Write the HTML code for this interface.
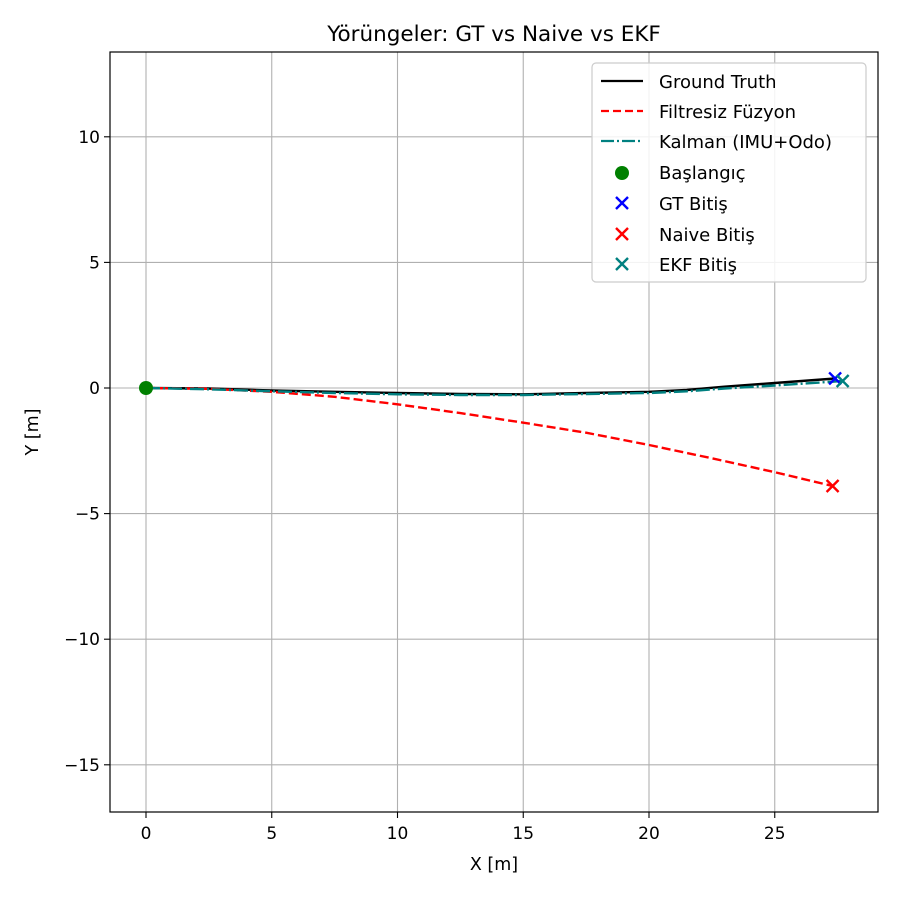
<!DOCTYPE html>
<html><head><meta charset="utf-8"><style>
body{margin:0;background:#fff}
svg text{font-family:"DejaVu Sans","Liberation Sans",sans-serif;fill:#000}
</style></head><body>
<svg id="chart" width="900" height="900" xmlns="http://www.w3.org/2000/svg">
<rect width="900" height="900" fill="#fff"/>
<g id="grid"></g>
<g id="series"></g>
<rect x="110" y="52" width="768" height="760" fill="none" stroke="#000" stroke-width="1.2"/>
<g id="ticks"></g>
<text x="494" y="41" font-size="21.5" text-anchor="middle">Yörüngeler: GT vs Naive vs EKF</text>
<text x="494" y="870" font-size="17.5" text-anchor="middle">X [m]</text>
<text x="38" y="432" font-size="17.5" text-anchor="middle" transform="rotate(-90 38 432)">Y [m]</text>
<g>
<rect x="592" y="63" width="274" height="219" rx="4" fill="#fff" fill-opacity="0.85" stroke="#ccc" stroke-width="1.2"/>
<g><line x1="601" y1="81" x2="643" y2="81" stroke="#000" stroke-width="2.2"/><text x="659" y="88" font-size="18">Ground Truth</text></g>
<g><line x1="601" y1="111" x2="643" y2="111" stroke="red" stroke-width="2.2" stroke-dasharray="8,4"/><text x="659" y="118" font-size="18">Filtresiz Füzyon</text></g>
<g><line x1="601" y1="141" x2="643" y2="141" stroke="teal" stroke-width="2.2" stroke-dasharray="13,3,2,3"/><text x="659" y="148" font-size="18">Kalman (IMU+Odo)</text></g>
<g><circle cx="622" cy="173" r="7" fill="green"/><text x="659" y="179" font-size="18">Başlangıç</text></g>
<g><path d="M616 197l12 12M628 197l-12 12" stroke="blue" stroke-width="2.4"/><text x="659" y="210" font-size="18">GT Bitiş</text></g>
<g><path d="M616 228l12 12M628 228l-12 12" stroke="red" stroke-width="2.4"/><text x="659" y="241" font-size="18">Naive Bitiş</text></g>
<g><path d="M616 258l12 12M628 258l-12 12" stroke="teal" stroke-width="2.4"/><text x="659" y="271" font-size="18">EKF Bitiş</text></g>
</g>
</svg>
<script>
const xTicks=[0,5,10,15,20,25];
const yTicks=[10,5,0,-5,-10,-15];
const yTickLabels=["10","5","0","−5","−10","−15"];
const gtX=[0,2.5,5,7.5,10,12.5,15,17.5,20,21.5,23,25,27.4];
const gtY=[0,-0.02,-0.1,-0.15,-0.2,-0.24,-0.25,-0.2,-0.15,-0.08,0.05,0.2,0.38];
const naiveX=[0,2.5,5,7.5,10,12.5,15,17.5,20,22.5,25,27.3];
const naiveY=[0,-0.03,-0.15,-0.35,-0.65,-1.0,-1.38,-1.78,-2.27,-2.8,-3.35,-3.9];
const ekfX=[0,2.5,5,7.5,10,12.5,15,17.5,20,21.5,23,25,27.7];
const ekfY=[0,-0.05,-0.13,-0.2,-0.25,-0.28,-0.28,-0.24,-0.2,-0.13,-0.02,0.1,0.28];
const startPt=[0,0];
const gtEnd=[27.4,0.38];
const naiveEnd=[27.3,-3.9];
const ekfEnd=[27.7,0.28];
const X=v=>146+v*25.15;
const Y=v=>388-v*25.12;
const NS="http://www.w3.org/2000/svg";
function mk(tag,attrs,parent){const e=document.createElementNS(NS,tag);for(const k in attrs)e.setAttribute(k,attrs[k]);parent.appendChild(e);return e;}
const grid=document.getElementById('grid'),ticks=document.getElementById('ticks'),series=document.getElementById('series');
xTicks.forEach(t=>{
 const g=mk('line',{x1:X(t),x2:X(t),y1:52,y2:812,stroke:'#b0b0b0','stroke-width':1.1},grid);
 
 
 mk('line',{x1:X(t),x2:X(t),y1:812,y2:818,stroke:'#000','stroke-width':1.1},ticks);
 const l=mk('text',{x:X(t),y:839,'font-size':17,'text-anchor':'middle'},ticks);l.textContent=t;
 
 
});
yTicks.forEach((t,i)=>{
 const g=mk('line',{x1:110,x2:878,y1:Y(t),y2:Y(t),stroke:'#b0b0b0','stroke-width':1.1},grid);
 
 
 mk('line',{x1:104,x2:110,y1:Y(t),y2:Y(t),stroke:'#000','stroke-width':1.1},ticks);
 const l=mk('text',{x:100,y:Y(t)+6,'font-size':17,'text-anchor':'end'},ticks);l.textContent=yTickLabels[i];
 
 
});
function line(xs,ys,style,name){
 const d=xs.map((x,i)=>(i?'L':'M')+X(x).toFixed(1)+' '+Y(ys[i]).toFixed(1)).join(' ');
 const p=mk('path',Object.assign({d:d,fill:'none','stroke-width':2.4},style),series);
 
 
}
line(gtX,gtY,{stroke:'#000'},'ground-truth-line');
line(naiveX,naiveY,{stroke:'red','stroke-dasharray':'9,4'},'naive-line');
line(ekfX,ekfY,{stroke:'teal','stroke-dasharray':'14,3,2,3'},'kalman-line');
const s=mk('circle',{cx:X(startPt[0]),cy:Y(startPt[1]),r:7,fill:'green'},series);


function cross(p,c,name){
 const x=X(p[0]),y=Y(p[1]);
 const e=mk('path',{d:`M${x-6} ${y-6}l12 12M${x+6} ${y-6}l-12 12`,stroke:c,'stroke-width':2.4},series);
 
 
}
cross(gtEnd,'blue','gt-end-marker');
cross(naiveEnd,'red','naive-end-marker');
cross(ekfEnd,'teal','ekf-end-marker');
</script>
</body></html>
